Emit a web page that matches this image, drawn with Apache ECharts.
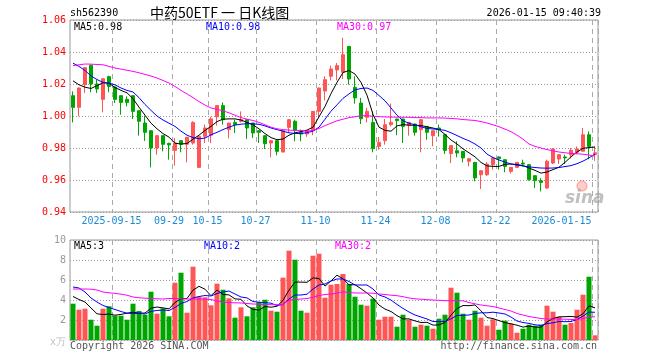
<!DOCTYPE html>
<html><head><meta charset="utf-8">
<script src="https://cdn.jsdelivr.net/npm/echarts@6/dist/echarts.min.js"></script>
<style>html,body{margin:0;padding:0;background:#fff}#c{width:660px;height:360px}</style>
</head><body><div id="c"></div>
<script>
const dates = ['2025-09-04','2025-09-05','2025-09-08','2025-09-09','2025-09-10','2025-09-11','2025-09-12','2025-09-15','2025-09-16','2025-09-17','2025-09-18','2025-09-19','2025-09-22','2025-09-23','2025-09-24','2025-09-25','2025-09-26','2025-09-29','2025-09-30','2025-10-09','2025-10-10','2025-10-13','2025-10-14','2025-10-15','2025-10-16','2025-10-17','2025-10-20','2025-10-21','2025-10-22','2025-10-23','2025-10-24','2025-10-27','2025-10-28','2025-10-29','2025-10-30','2025-10-31','2025-11-03','2025-11-04','2025-11-05','2025-11-06','2025-11-07','2025-11-10','2025-11-11','2025-11-12','2025-11-13','2025-11-14','2025-11-17','2025-11-18','2025-11-19','2025-11-20','2025-11-21','2025-11-24','2025-11-25','2025-11-26','2025-11-27','2025-11-28','2025-12-01','2025-12-02','2025-12-03','2025-12-04','2025-12-05','2025-12-08','2025-12-09','2025-12-10','2025-12-11','2025-12-12','2025-12-15','2025-12-16','2025-12-17','2025-12-18','2025-12-19','2025-12-22','2025-12-23','2025-12-24','2025-12-25','2025-12-26','2025-12-29','2025-12-30','2025-12-31','2026-01-05','2026-01-06','2026-01-07','2026-01-08','2026-01-09','2026-01-12','2026-01-13','2026-01-14','2026-01-15'];

const tickDates = ['2025-09-15','2025-09-29','2025-10-15','2025-10-27','2025-11-10','2025-11-24','2025-12-08','2025-12-22','2026-01-15'];
const tickLabels = ['2025-09-15','09-29','10-15','10-27','11-10','11-24','12-08','12-22','2026-01-15'];

const opens = [1.0127,1.0054,1.0196,1.0317,1.0200,1.0104,1.0246,1.0181,1.0127,1.0104,
 1.0127,1.0033,0.9956,0.9908,0.9800,0.9877,0.9829,0.9785,0.9846,0.9823,
 0.9831,0.9679,0.9873,0.9880,0.9995,1.0065,0.9915,0.9960,0.9967,0.9977,
 0.9956,0.9908,0.9877,0.9831,0.9846,0.9775,0.9929,0.9967,0.9898,0.9887,
 0.9910,1.0029,1.0156,1.0248,1.0288,1.0273,1.0435,1.0179,1.0081,0.9992,
 0.9960,0.9810,0.9846,0.9946,0.9981,0.9981,0.9940,0.9950,0.9915,0.9935,
 0.9877,0.9925,0.9883,0.9765,0.9783,0.9779,0.9717,0.9710,0.9633,0.9633,
 0.9696,0.9744,0.9727,0.9654,0.9679,0.9706,0.9696,0.9627,0.9596,0.9550,
 0.9706,0.9731,0.9744,0.9758,0.9773,0.9780,0.9883,0.9760];

const closes = [1.0054,1.0175,1.0302,1.0200,1.0169,1.0233,1.0185,1.0104,1.0085,1.0085,
 1.0029,0.9967,0.9898,0.9800,0.9877,0.9823,0.9819,0.9831,0.9823,0.9867,
 0.9960,0.9873,0.9925,0.9982,1.0065,0.9977,0.9956,0.9946,0.9977,0.9925,
 0.9894,0.9898,0.9827,0.9846,0.9779,0.9908,0.9977,0.9910,0.9887,0.9908,
 1.0029,1.0175,1.0227,1.0294,1.0315,1.0383,1.0231,1.0113,0.9983,1.0029,
 0.9796,0.9835,0.9946,0.9960,0.9971,0.9935,0.9960,0.9898,0.9977,0.9898,
 0.9908,0.9915,0.9785,0.9815,0.9769,0.9738,0.9733,0.9613,0.9658,0.9700,
 0.9738,0.9733,0.9685,0.9679,0.9710,0.9700,0.9602,0.9596,0.9585,0.9717,
 0.9794,0.9758,0.9738,0.9785,0.9794,0.9883,0.9810,0.9770];

const lows = [0.9960,0.9998,1.0144,1.0148,1.0144,1.0023,1.0148,1.0081,1.0008,1.0060,
 0.9981,0.9877,0.9844,0.9679,0.9758,0.9779,0.9727,0.9690,0.9773,0.9710,
 0.9821,0.9675,0.9831,0.9831,0.9940,0.9946,0.9860,0.9894,0.9960,0.9856,
 0.9863,0.9831,0.9794,0.9742,0.9754,0.9773,0.9894,0.9842,0.9842,0.9870,
 0.9880,0.9994,1.0098,1.0223,1.0223,1.0231,1.0196,1.0077,0.9950,0.9960,
 0.9773,0.9790,0.9821,0.9935,0.9880,0.9831,0.9877,0.9877,0.9773,0.9852,
 0.9810,0.9871,0.9763,0.9706,0.9742,0.9710,0.9685,0.9592,0.9544,0.9625,
 0.9665,0.9665,0.9648,0.9640,0.9675,0.9685,0.9596,0.9550,0.9529,0.9544,
 0.9700,0.9700,0.9700,0.9735,0.9760,0.9779,0.9730,0.9720];

const highs = [1.0154,1.0178,1.0305,1.0320,1.0227,1.0235,1.0252,1.0185,1.0129,1.0123,
 1.0129,1.0035,1.0002,0.9910,0.9879,0.9879,0.9833,0.9862,0.9848,0.9869,
 0.9967,0.9877,0.9946,0.9995,1.0067,1.0085,0.9958,0.9977,1.0029,0.9979,
 0.9958,0.9910,0.9879,0.9848,0.9848,0.9910,0.9981,0.9977,0.9915,0.9910,
 1.0031,1.0177,1.0248,1.0315,1.0331,1.0488,1.0437,1.0248,1.0113,1.0050,
 1.0029,0.9869,0.9981,1.0077,0.9983,0.9983,0.9962,0.9952,0.9979,0.9937,
 0.9910,0.9946,0.9885,0.9817,0.9842,0.9781,0.9735,0.9712,0.9660,0.9712,
 0.9746,0.9748,0.9729,0.9681,0.9713,0.9727,0.9698,0.9629,0.9612,0.9727,
 0.9800,0.9760,0.9758,0.9800,0.9810,0.9925,0.9904,0.9810];

const ma5 = [1.0220,1.0195,1.0180,1.0172,1.0190,1.0208,1.0205,1.0178,1.0160,1.0145,
 1.0108,1.0055,1.0005,0.9955,0.9920,0.9890,0.9868,0.9830,0.9825,0.9828,
 0.9855,0.9880,0.9910,0.9935,0.9965,0.9980,0.9982,0.9982,0.9975,0.9960,
 0.9945,0.9920,0.9890,0.9865,0.9852,0.9856,0.9880,0.9895,0.9902,0.9912,
 0.9930,0.9995,1.0060,1.0140,1.0210,1.0272,1.0284,1.0262,1.0210,1.0130,
 1.0010,0.9930,0.9910,0.9905,0.9938,0.9946,0.9943,0.9942,0.9941,0.9932,
 0.9925,0.9915,0.9885,0.9850,0.9825,0.9795,0.9770,0.9745,0.9710,0.9688,
 0.9685,0.9685,0.9698,0.9700,0.9697,0.9690,0.9675,0.9660,0.9643,0.9650,
 0.9665,0.9680,0.9710,0.9745,0.9775,0.9798,0.9803,0.9806];

const ma10 = [1.0330,1.0310,1.0285,1.0250,1.0228,1.0210,1.0205,1.0195,1.0175,1.0160,
 1.0150,1.0115,1.0072,1.0035,1.0000,0.9975,0.9955,0.9935,0.9905,0.9880,
 0.9865,0.9858,0.9862,0.9882,0.9898,0.9915,0.9930,0.9943,0.9949,0.9952,
 0.9951,0.9948,0.9938,0.9925,0.9915,0.9905,0.9895,0.9891,0.9890,0.9896,
 0.9905,0.9930,0.9980,1.0030,1.0070,1.0110,1.0138,1.0163,1.0172,1.0175,
 1.0160,1.0128,1.0095,1.0050,1.0005,0.9970,0.9955,0.9945,0.9933,0.9922,
 0.9919,0.9916,0.9910,0.9895,0.9878,0.9860,0.9845,0.9825,0.9800,0.9762,
 0.9740,0.9725,0.9712,0.9700,0.9693,0.9688,0.9682,0.9678,0.9675,0.9674,
 0.9675,0.9678,0.9684,0.9690,0.9702,0.9718,0.9738,0.9762];

const ma30 = [1.0315,1.0320,1.0325,1.0324,1.0322,1.0320,1.0310,1.0300,1.0293,1.0286,
 1.0279,1.0270,1.0260,1.0250,1.0237,1.0222,1.0206,1.0185,1.0160,1.0138,
 1.0115,1.0090,1.0068,1.0050,1.0042,1.0032,1.0020,1.0005,0.9990,0.9980,
 0.9972,0.9960,0.9945,0.9930,0.9920,0.9915,0.9912,0.9910,0.9910,0.9905,
 0.9910,0.9922,0.9940,0.9955,0.9970,0.9980,0.9990,0.9995,1.0002,1.0002,
 0.9998,0.9996,0.9994,0.9993,0.9993,0.9992,0.9992,0.9990,0.9990,0.9988,
 0.9988,0.9988,0.9987,0.9985,0.9982,0.9978,0.9975,0.9972,0.9965,0.9956,
 0.9945,0.9933,0.9918,0.9902,0.9880,0.9855,0.9825,0.9810,0.9800,0.9790,
 0.9782,0.9775,0.9770,0.9766,0.9764,0.9761,0.9756,0.9750];

const volumes = [3.63,3.03,3.13,2.03,1.43,3.13,3.37,2.43,2.43,2.03,
 3.63,2.90,2.53,4.83,2.63,3.17,2.37,5.73,6.73,2.73,
 7.33,4.33,4.27,3.47,5.63,5.03,4.17,2.23,3.27,2.37,
 3.27,3.80,4.03,2.93,2.83,6.23,8.93,8.03,2.93,2.73,
 8.43,8.63,4.23,5.53,5.60,6.60,5.60,4.33,3.53,3.43,
 4.13,2.03,2.33,2.33,1.33,2.53,2.03,1.33,1.53,1.43,
 1.13,2.13,2.53,5.23,4.73,2.63,2.03,2.93,2.23,1.43,
 2.07,1.03,1.93,1.63,0.73,1.13,1.53,1.43,1.53,3.43,
 2.83,2.33,1.53,1.70,3.03,4.53,6.33,0.47];

const volMa5 = [4.35,4.05,3.80,3.20,2.62,2.55,2.60,2.48,2.56,2.68,
 2.78,2.68,2.70,3.18,3.30,3.21,3.11,3.75,4.13,4.15,
 4.98,5.37,5.08,4.43,5.00,4.55,4.51,4.11,4.07,3.41,
 3.06,2.99,3.35,3.28,3.37,3.96,4.99,5.79,5.79,5.77,
 6.21,6.15,5.39,5.91,6.48,6.12,5.51,5.53,5.13,4.70,
 4.20,3.49,3.09,2.85,2.43,2.11,2.11,1.91,1.75,1.77,
 1.49,1.51,1.75,2.49,3.15,3.45,3.43,3.51,2.91,2.25,
 2.14,1.94,1.74,1.62,1.48,1.29,1.39,1.29,1.27,1.81,
 2.15,2.31,2.33,2.36,2.28,2.62,3.42,3.21];

const volMa10 = [5.30,5.20,4.80,4.20,3.80,3.45,3.25,3.05,2.85,2.68,
 2.66,2.65,2.60,2.87,2.95,3.00,2.95,3.25,3.66,3.85,
 4.20,4.35,4.45,4.40,4.65,4.80,4.90,4.60,4.30,4.21,
 3.85,3.78,3.74,3.68,3.45,3.55,4.10,4.50,4.50,4.58,
 5.10,5.50,5.60,5.90,6.10,6.10,5.85,5.50,5.50,5.50,
 5.10,4.50,4.30,3.99,3.56,3.16,2.80,2.50,2.30,2.10,
 1.85,1.83,1.85,2.12,2.46,2.47,2.50,2.65,2.72,2.72,
 2.78,2.70,2.60,2.30,1.90,1.75,1.66,1.52,1.46,1.64,
 1.72,1.85,1.83,1.85,2.05,2.39,2.80,2.77];

const volMa30 = [5.10,5.10,5.10,5.08,5.00,4.80,4.72,4.67,4.58,4.48,
 4.30,4.22,4.18,4.15,4.12,4.10,4.15,4.15,4.12,4.10,
 4.10,4.10,4.08,4.05,3.90,3.78,3.75,3.72,3.70,3.65,
 3.60,3.58,3.55,3.53,3.53,3.55,3.98,4.05,4.10,4.15,
 4.27,4.45,4.55,4.60,4.68,4.82,4.75,4.70,4.70,4.70,
 4.68,4.60,4.55,4.48,4.43,4.33,4.20,4.12,4.08,4.03,
 4.00,3.97,3.93,3.93,3.93,3.92,3.75,3.62,3.50,3.42,
 3.35,3.20,3.05,2.90,2.65,2.50,2.35,2.25,2.15,2.10,
 2.10,2.10,2.08,2.05,2.05,2.15,2.30,2.32];

const UP = '#ff5555', DOWN = '#00a600';
const MONO = 'DejaVu Sans Mono';
const candleData = dates.map((d, i) => [opens[i], closes[i], lows[i], highs[i]]);
const volData = volumes.map((v, i) => ({ value: v, itemStyle: { color: closes[i] >= opens[i] ? UP : DOWN } }));
const tickSet = new Set(tickDates);

function xAxisFor(gridIndex, showLabel) {
  return {
    type: 'category', gridIndex, data: dates, boundaryGap: true,
    axisLine: { show: false }, axisTick: { show: false },
    axisLabel: {
      show: showLabel,
      interval: (i, v) => tickSet.has(v),
      margin: 4,
      fontFamily: MONO, fontSize: 10, color: '#1a8ad4',
      formatter: (v) => {
        const k = tickDates.indexOf(v);
        const t = tickLabels[k];
        if (k === tickDates.length - 1) return '{last|' + t + '}';
        if (k === 1) return '{m|' + t + '}';
        return '{n|' + t + '}';
      },
      rich: {
        n: { padding: [0, 7, 0, 0], fontFamily: MONO, fontSize: 10, color: '#1a8ad4' },
        m: { padding: [0, 12, 0, 0], fontFamily: MONO, fontSize: 10, color: '#1a8ad4' },
        last: { padding: [0, 67, 0, 0], fontFamily: MONO, fontSize: 10, color: '#1a8ad4' }
      }
    },
    splitLine: {
      show: true,
      interval: (i, v) => tickSet.has(v),
      lineStyle: { color: '#aaaaaa', type: [5, 4], width: 1 }
    }
  };
}

const dotted = { color: '#999999', type: [1, 2], width: 1 };

function txt(x, y, text, color, extra) {
  return Object.assign({
    type: 'text', x, y, silent: true,
    style: Object.assign({ text, fill: color, font: '10px "' + MONO + '"', textVerticalAlign: 'middle' }, extra || {})
  });
}

const chart = echarts.init(document.getElementById('c'), null, { renderer: 'canvas' });
chart.setOption({
  animation: false,
  backgroundColor: '#ffffff',
  grid: [
    { left: 70, top: 20, width: 528, height: 192, show: true, borderColor: '#999999', borderWidth: 1 },
    { left: 70, top: 240, width: 528, height: 100, show: true, borderColor: '#999999', borderWidth: 1 }
  ],
  xAxis: [xAxisFor(0, true), xAxisFor(1, false)],
  yAxis: [
    {
      type: 'value', gridIndex: 0, min: 0.94, max: 1.06, interval: 0.02, scale: true,
      axisLine: { show: false }, axisTick: { show: false },
      axisLabel: { margin: 4, fontFamily: MONO, fontSize: 10, color: '#ff0000', formatter: v => v.toFixed(2) },
      splitLine: { show: true, lineStyle: dotted }
    },
    {
      type: 'value', gridIndex: 1, min: 0, max: 10, interval: 2,
      axisLine: { show: false }, axisTick: { show: false },
      axisLabel: {
        margin: 4, fontFamily: MONO, fontSize: 10, color: '#999999',
        formatter: v => v === 0 ? '{u|x万}' : String(v),
        rich: { u: { color: '#c0c0c0', fontFamily: MONO, fontSize: 10, padding: [4, 0, 0, 0] } }
      },
      splitLine: { show: true, lineStyle: dotted }
    }
  ],
  series: [
    {
      type: 'candlestick', xAxisIndex: 0, yAxisIndex: 0, data: candleData, barWidth: 4,
      itemStyle: { color: UP, color0: DOWN, borderColor: UP, borderColor0: DOWN, borderWidth: 1 }
    },
    { type: 'line', xAxisIndex: 0, yAxisIndex: 0, data: ma5, showSymbol: false, symbol: 'none', lineStyle: { color: '#000000', width: 1 } },
    { type: 'line', xAxisIndex: 0, yAxisIndex: 0, data: ma10, showSymbol: false, symbol: 'none', lineStyle: { color: '#0000ff', width: 1 } },
    { type: 'line', xAxisIndex: 0, yAxisIndex: 0, data: ma30, showSymbol: false, symbol: 'none', lineStyle: { color: '#ff00ff', width: 1 } },
    { type: 'bar', xAxisIndex: 1, yAxisIndex: 1, data: volData, barWidth: 5 },
    { type: 'line', xAxisIndex: 1, yAxisIndex: 1, data: volMa5, showSymbol: false, symbol: 'none', lineStyle: { color: '#000000', width: 1 } },
    { type: 'line', xAxisIndex: 1, yAxisIndex: 1, data: volMa10, showSymbol: false, symbol: 'none', lineStyle: { color: '#0000ff', width: 1 } },
    { type: 'line', xAxisIndex: 1, yAxisIndex: 1, data: volMa30, showSymbol: false, symbol: 'none', lineStyle: { color: '#ff00ff', width: 1 } }
  ],
  graphic: [
    txt(70, 13, 'sh562390', '#000000'),
    { type: 'text', x: 150, y: 13, silent: true, style: { text: '中药50ETF 一 日K线图', fill: '#000000', font: '14px "Noto Sans CJK SC"', textVerticalAlign: 'middle' } },
    txt(601, 13, '2026-01-15 09:40:39', '#000000', { textAlign: 'right' }),
    txt(74, 27, 'MA5:0.98', '#000000'),
    txt(206, 27, 'MA10:0.98', '#0000ff'),
    txt(337, 27, 'MA30:0.97', '#ff00ff'),
    txt(74, 246, 'MA5:3', '#000000'),
    txt(204, 246, 'MA10:2', '#0000ff'),
    txt(335, 246, 'MA30:2', '#ff00ff'),
    txt(70, 346, 'Copyright 2026 SINA.COM', '#555555'),
    txt(597, 346, 'http://finance.sina.com.cn', '#555555', { textAlign: 'right' }),
    { type: 'circle', silent: true, shape: { cx: 582, cy: 186, r: 5 }, style: { fill: 'rgba(255,110,110,0.35)', stroke: 'rgba(255,110,110,0.45)', lineWidth: 1.5 } },
    { type: 'text', x: 565, y: 199, silent: true, style: { text: 'sina', fill: 'rgba(150,150,150,0.6)', font: 'italic bold 17px "DejaVu Sans"', textVerticalAlign: 'middle' } }
  ]
});
</script>
</body></html>
